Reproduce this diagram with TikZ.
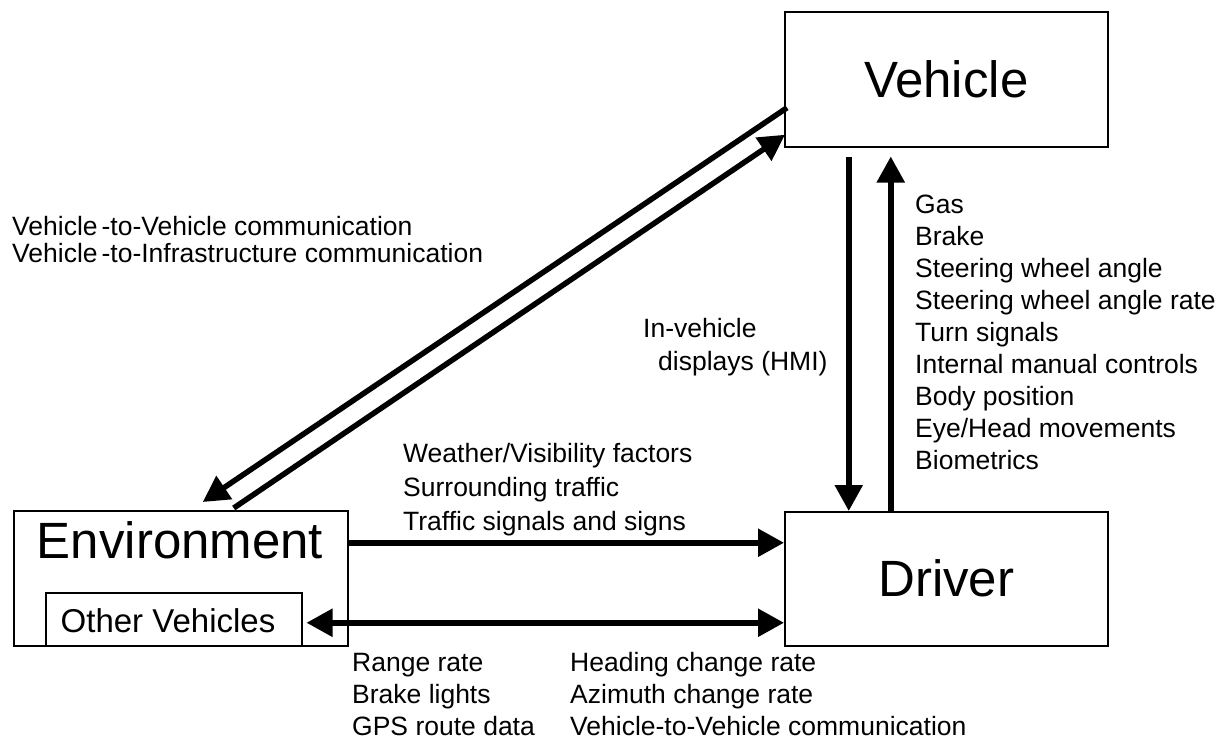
\documentclass[tikz,border=0pt]{standalone}
\usepackage{fontspec}
\setmainfont{Liberation Sans}
\usetikzlibrary{arrows.meta}
\begin{document}
\begin{tikzpicture}[x=1pt,y=-1pt,
  box/.style={draw, line width=1.5pt, rectangle, inner sep=0pt, anchor=north west},
  small/.style={font=\fontsize{26.5}{32}\selectfont, inner sep=0pt, anchor=base west},
  big/.style={font=\fontsize{51}{60}\selectfont, inner sep=0pt},
  mid/.style={font=\fontsize{33}{40}\selectfont, inner sep=0pt, anchor=base},
  tipA/.tip={Triangle[length=26pt,width=27pt]},
  arr/.style={line width=5.5pt, -tipA},
  darr/.style={line width=5.5pt, tipA-tipA},
  flow/.style={line width=5.5pt}
]
\fill[white] (0,0) rectangle (1222,742);
\useasboundingbox (0,0) rectangle (1222,742);

% boxes
\node[box, minimum width=323pt, minimum height=135pt] (veh) at (784,11) {};
\node[big] (vehl) at (veh.center) {Vehicle};
\node[box, minimum width=323pt, minimum height=134pt] (drv) at (784,511) {};
\node[big] (drvl) at (drv.center) {Driver};
\node[box, minimum width=334pt, minimum height=135pt] (env) at (13,510) {};
\node[big, anchor=base] (envl) at (180,558) {Environment};
\node[box, minimum width=256pt, minimum height=53pt] (ov) at (45,592) {};
\node[mid] (ovl) at (168,632) {Other Vehicles};

% connectors
\draw[arr] ([shift={(-97.5,9)}]veh.south) -- ([xshift=-97.5pt]drv.north);
\draw[arr] ([xshift=-55.5pt]drv.north) -- ([shift={(-55.5,9)}]veh.south);
\draw[arr] ([yshift=35.5pt]env.east) -- ([yshift=36pt]drv.west);
\draw[darr] ([shift={(4,3.5)}]ov.east) -- ([shift={(0,44)}]drv.west);
\draw[arr] ([shift={(3,28.5)}]veh.west) -- ([shift={(22,-8)}]env.north);
\draw[arr] ([shift={(53,-2)}]env.north) -- ([shift={(1,55.5)}]veh.west);

% labels
\node[small] (v2v1) at (12,235) {Vehicle\hspace{4pt}-to-Vehicle communication};
\node[small] (v2v2) at (12,262) {Vehicle\hspace{4pt}-to-Infrastructure communication};
\node[small] (hmi1) at (643,337) {In-vehicle};
\node[small] (hmi2) at (658,370) {displays (HMI)};
\node[small] (wx1) at (403,462) {Weather/Visibility factors};
\node[small] (wx2) at (403,496) {Surrounding traffic};
\node[small] (wx3) at (403,530) {Traffic signals and signs};
\foreach \t [count=\i] in {Gas, Brake, Steering wheel angle, Steering wheel angle rate, Turn signals, Internal manual controls, Body position, Eye/Head movements, Biometrics}
  \node[small] (ctl\i) at (915,{213+32.1*(\i-1)}) {\t};
\node[small] (ov1) at (352,671) {Range rate};
\node[small] (ov2) at (352,703) {Brake lights};
\node[small] (ov3) at (352,735) {GPS route data};
\node[small] (dr1) at (570,671) {Heading change rate};
\node[small] (dr2) at (570,703) {Azimuth change rate};
\node[small] (dr3) at (570,735) {Vehicle-to-Vehicle communication};
\end{tikzpicture}
\end{document}
